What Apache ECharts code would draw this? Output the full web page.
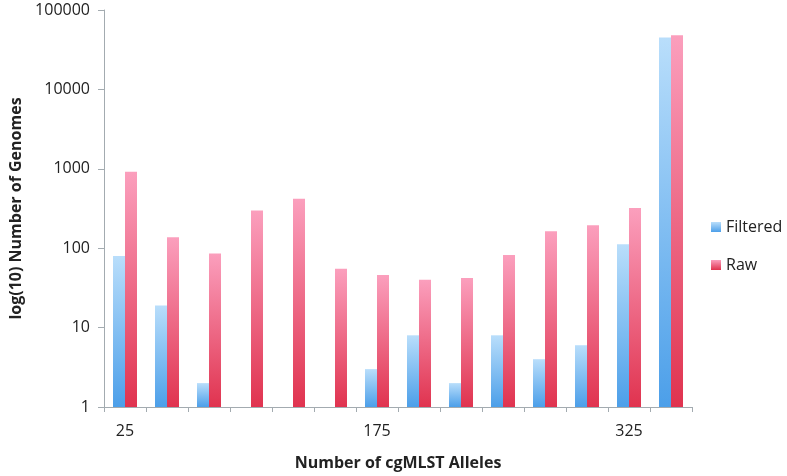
<!DOCTYPE html>
<html><head><meta charset="utf-8">
<script src="https://cdn.jsdelivr.net/npm/echarts@6/dist/echarts.min.js"></script>
<style>html,body{margin:0;padding:0;background:#fff}#c{width:787px;height:476px}</style>
</head><body><div id="c"></div>
<script>
const categories = ['25','50','75','100','125','150','175','200','225','250','275','300','325','350'];
const filtered = [80, 19, 2, null, null, null, 3, 8, 2, 8, 4, 6, 112, 45000];
const raw = [920, 137, 86, 298, 420, 55, 46, 40, 42, 82, 163, 195, 320, 48000];
const yTicks = [1, 10, 100, 1000, 10000, 100000];

const font = '"Open Sans", sans-serif';
const chart = echarts.init(document.getElementById('c'));
function grad(top, bottom){
  return new echarts.graphic.LinearGradient(0,0,0,1,[{offset:0,color:top},{offset:1,color:bottom}]);
}
chart.setOption({
  animation:false,
  grid:{left:104,right:95,top:10,bottom:67,containLabel:false},
  legend:{
    orient:'vertical', left:706, top:214, itemGap:22, itemWidth:10, itemHeight:10,
    icon:'rect',
    textStyle:{fontFamily:font,fontSize:16,color:'#222'},
    data:['Filtered','Raw']
  },
  xAxis:{
    type:'category', data:categories,
    name:'Number of cgMLST Alleles', nameLocation:'middle', nameGap:48,
    nameTextStyle:{fontFamily:font,fontSize:16,fontWeight:'bold',color:'#222'},
    axisLine:{lineStyle:{color:'#a3abb0',width:1}},
    axisTick:{show:true,interval:0,length:5,lineStyle:{color:'#a3abb0'}},
    axisLabel:{interval:5,margin:16,fontFamily:font,fontSize:16,color:'#222'}
  },
  yAxis:{
    type:'log', logBase:10, min:yTicks[0], max:yTicks[yTicks.length-1],
    name:'log(10) Number of Genomes', nameLocation:'middle', nameGap:76, nameRotate:90,
    nameTextStyle:{fontFamily:font,fontSize:16,fontWeight:'bold',color:'#222'},
    axisLine:{show:true,lineStyle:{color:'#a3abb0',width:1}},
    axisTick:{show:true,length:6,lineStyle:{color:'#a3abb0'}},
    splitLine:{show:false},
    axisLabel:{margin:14,fontFamily:font,fontSize:16,color:'#222',formatter:v=>String(Math.round(v))}
  },
  series:[
    {name:'Filtered',type:'bar',data:filtered,barWidth:12,barGap:'0%',
     itemStyle:{color:grad('#b9defb','#4c9fe9')}},
    {name:'Raw',type:'bar',data:raw,barWidth:12,
     itemStyle:{color:grad('#fb9fbd','#e0334f')}}
  ]
});
</script></body></html>
